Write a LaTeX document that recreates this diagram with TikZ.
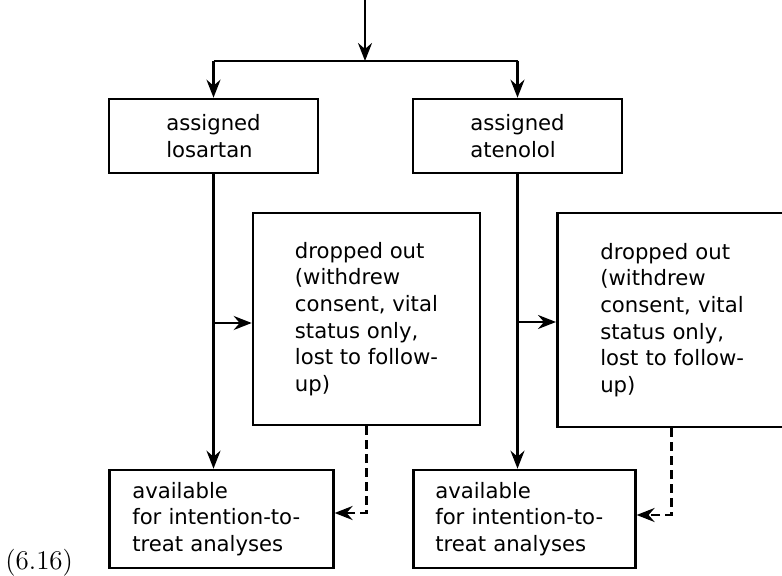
\documentclass[tikz,border=0pt]{standalone}
\usepackage{fontspec}
\usetikzlibrary{arrows.meta}
\newfontfamily\flowfont{DejaVu Sans}
\begin{document}
\begin{tikzpicture}[x=0.5pt,y=-0.5pt,
  flowbox/.style={draw, line width=1.3pt, align=left, inner sep=0pt,
    font=\flowfont\fontsize{10.6}{13.3}\selectfont},
  arr/.style={line width=1.2pt, -{Stealth[length=9pt,width=7pt,inset=3pt]}},
  dasharr/.style={arr, dash pattern=on 4.5pt off 2.5pt}]
\useasboundingbox (0,0) rectangle (782,576);
\clip (0,0) rectangle (782,576);

% randomisation boxes
\node[flowbox, minimum width=104.5pt, minimum height=37pt] (los) at (213.5,136)
  {assigned\\losartan};
\node[flowbox, minimum width=104.5pt, minimum height=37pt] (ate) at (517.5,136)
  {assigned\\atenolol};

% drop-out boxes
\node[flowbox, minimum width=113.5pt, minimum height=106pt] (dropL) at (366.5,319)
  {dropped out\\(withdrew\\consent, vital\\status only,\\lost to follow-\\up)};
\node[flowbox, anchor=west, text width=80pt, inner xsep=21.5pt, minimum height=107pt] (dropR) at (556,320)
  {dropped out\\(withdrew\\consent, vital\\status only,\\lost to follow-\\up)};

% analysis boxes
\node[flowbox, anchor=west, text width=89pt, inner xsep=11.5pt, minimum height=49pt] (itL) at (108,519)
  {available\\for intention-to-\\treat analyses};
\node[flowbox, anchor=west, text width=89pt, inner xsep=11pt, minimum height=49pt] (itR) at (412,519)
  {available\\for intention-to-\\treat analyses};

% entry and split
\coordinate (entry) at (365,0);
\coordinate (split) at (365,61);
\draw[arr] (entry) -- (split);
\draw[line width=1.2pt] (split -| los.north) -- (split -| ate.north);
\draw[arr] (split -| los.north) -- (los.north);
\draw[arr] (split -| ate.north) -- (ate.north);

% main streams
\draw[arr] (los.south) -- (los.south |- itL.north);
\draw[arr] (ate.south) -- (ate.south |- itR.north);
\draw[arr] ([yshift=-2pt]los.south |- dropL.west) -- ([yshift=-2pt]dropL.west);
\draw[arr] ([yshift=-1pt]ate.south |- dropR.west) -- ([yshift=-1pt]dropR.west);

% drop-outs still counted
\draw[dasharr] (dropL.south) |- ([yshift=3pt]itL.east);
\draw[dasharr] ([xshift=-4.5pt]dropR.south) |- ([yshift=2pt]itR.east);

\node[anchor=base west, inner sep=0pt, font=\fontsize{13.5}{16}\selectfont] (eqno) at (5,570) {(6.16)};
\end{tikzpicture}
\end{document}
